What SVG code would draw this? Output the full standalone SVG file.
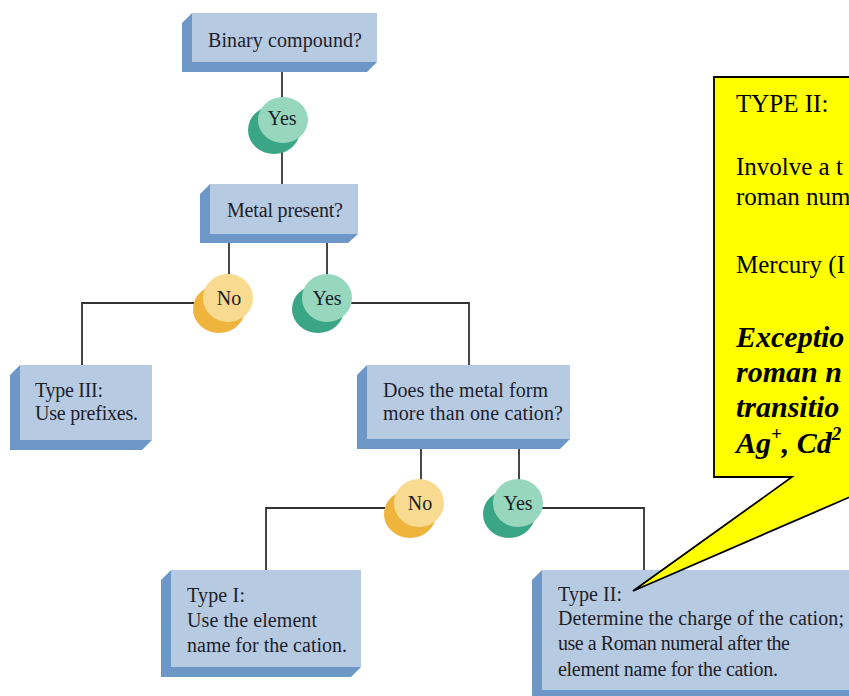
<svg xmlns="http://www.w3.org/2000/svg" width="849" height="696" viewBox="0 0 849 696">
<defs>
<style>
.face{fill:#b6cae2}
.side{fill:#6d97c7}
.t{font-family:"Liberation Serif","Times New Roman",serif;font-size:20px;fill:#1e1e2a}
.conn{fill:none;stroke:#333;stroke-width:1.8}
.yl{fill:#97d7be}
.yd{fill:#3ba686}
.nl{fill:#f8da90}
.nd{fill:#efb43c}
.ct{font-family:"Liberation Serif","Times New Roman",serif;font-size:25px;fill:#000}
.cb{font-family:"Liberation Serif","Times New Roman",serif;font-size:30px;font-weight:bold;font-style:italic;fill:#000}
</style>
</defs>
<rect width="849" height="696" fill="#fff"/>
<g id="connectors">
<line class="conn" x1="282" y1="62" x2="282" y2="184"/>
<line class="conn" x1="229" y1="234" x2="229" y2="290"/>
<line class="conn" x1="327" y1="234" x2="327" y2="290"/>
<polyline class="conn" points="210,303 82,303 82,365"/>
<polyline class="conn" points="345,303 469,303 469,365"/>
<line class="conn" x1="421" y1="439" x2="421" y2="495"/>
<line class="conn" x1="519" y1="439" x2="519" y2="495"/>
<polyline class="conn" points="405,508 266,508 266,570"/>
<polyline class="conn" points="535,508 644,508 644,570"/>
</g>
<g id="n-binary">
<polygon class="side" points="192,13 182,23 182,72 367,72 377,62 192,62"/>
<rect class="face" x="192" y="13" width="185" height="49"/>
<text class="t" x="208" y="47" textLength="154">Binary compound?</text>
</g>
<g id="b-yes1">
<ellipse class="yd" cx="274" cy="130" rx="26" ry="24"/>
<ellipse class="yl" cx="283" cy="120" rx="25" ry="23"/>
<text class="t" x="282" y="125" text-anchor="middle">Yes</text>
</g>
<g id="n-metal">
<polygon class="side" points="210,184 200,194 200,243 348,243 358,234 210,234"/>
<rect class="face" x="210" y="184" width="148" height="50"/>
<text class="t" x="227" y="217" textLength="116">Metal present?</text>
</g>
<g id="b-no1">
<ellipse class="nd" cx="219" cy="309" rx="26" ry="24"/>
<ellipse class="nl" cx="228" cy="298" rx="25" ry="24"/>
<text class="t" x="229" y="305" text-anchor="middle">No</text>
</g>
<g id="b-yes2">
<ellipse class="yd" cx="318" cy="309" rx="26" ry="24"/>
<ellipse class="yl" cx="327" cy="298" rx="25" ry="24"/>
<text class="t" x="327" y="305" text-anchor="middle">Yes</text>
</g>
<g id="n-type3">
<polygon class="side" points="20,365 10,375 10,450 142,450 152,440 20,440"/>
<rect class="face" x="20" y="365" width="132" height="75"/>
<text class="t" x="35" y="397" textLength="68">Type III:</text>
<text class="t" x="35" y="420" textLength="103">Use prefixes.</text>
</g>
<g id="n-cation">
<polygon class="side" points="367,365 357,375 357,449 560,449 570,439 367,439"/>
<rect class="face" x="367" y="365" width="203" height="74"/>
<text class="t" x="383" y="397" textLength="165">Does the metal form</text>
<text class="t" x="383" y="420" textLength="180">more than one cation?</text>
</g>
<g id="b-no2">
<ellipse class="nd" cx="410" cy="514" rx="26" ry="24"/>
<ellipse class="nl" cx="419" cy="503" rx="25" ry="24"/>
<text class="t" x="420" y="510" text-anchor="middle">No</text>
</g>
<g id="b-yes3">
<ellipse class="yd" cx="509" cy="514" rx="26" ry="24"/>
<ellipse class="yl" cx="518" cy="503" rx="25" ry="24"/>
<text class="t" x="518" y="510" text-anchor="middle">Yes</text>
</g>
<g id="n-type1">
<polygon class="side" points="171,570 161,580 161,677 351,677 361,667 171,667"/>
<rect class="face" x="171" y="570" width="190" height="97"/>
<text class="t" x="187" y="602" textLength="58">Type I:</text>
<text class="t" x="187" y="627" textLength="130">Use the element</text>
<text class="t" x="187" y="652" textLength="160">name for the cation.</text>
</g>
<g id="n-type2">
<polygon class="side" points="542,570 532,580 532,700 900,700 900,690 542,690"/>
<rect class="face" x="542" y="570" width="330" height="120"/>
<text class="t" x="558" y="601" textLength="64">Type II:</text>
<text class="t" x="558" y="625" textLength="286">Determine the charge of the cation;</text>
<text class="t" x="558" y="650" textLength="232">use a Roman numeral after the</text>
<text class="t" x="558" y="676" textLength="220">element name for the cation.</text>
</g>
<g id="callout">
<polygon points="714,77 960,77 960,477 896,477 633,591 792,477 714,477" fill="#ffff00" stroke="#000" stroke-width="1.8" stroke-linejoin="miter"/>
<text class="ct" x="736" y="112">TYPE II:</text>
<text class="ct" x="736" y="175">Involve a t</text>
<text class="ct" x="736" y="205">roman num</text>
<text class="ct" x="736" y="273">Mercury (I</text>
<text class="cb" x="736" y="347">Exceptio</text>
<text class="cb" x="736" y="382">roman n</text>
<text class="cb" x="736" y="417">transitio</text>
<text class="cb" x="736" y="453">Ag<tspan font-size="19" dy="-13">+</tspan><tspan dy="13">, Cd</tspan><tspan font-size="19" dy="-13">2</tspan></text>
</g>
</svg>
